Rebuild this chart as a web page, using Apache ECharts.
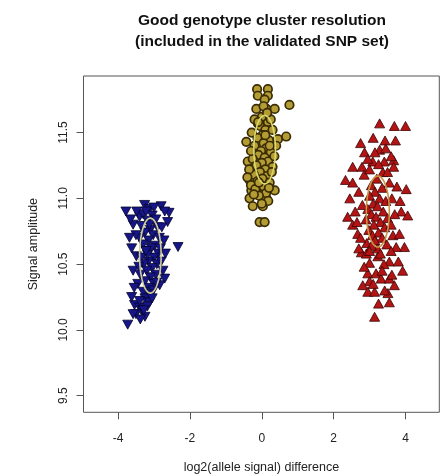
<!DOCTYPE html>
<html><head><meta charset="utf-8">
<script src="https://cdn.jsdelivr.net/npm/echarts@6/dist/echarts.min.js"></script>
<style>html,body{margin:0;padding:0;background:#fff}#c{width:442px;height:474px}</style>
</head><body><div id="c"></div>
<script>
// ---- data ----
const titleText = 'Good genotype cluster resolution\n(included in the validated SNP set)';
const xAxisTitle = 'log2(allele signal) difference';
const yAxisTitle = 'Signal amplitude';
const xTicks = [-4, -2, 0, 2, 4];
const yTicks = [9.5, 10.0, 10.5, 11.0, 11.5];

const blueX = [-3.78,-3.26,-2.80,-3.12,-2.58,-3.40,-3.58,-2.62,-2.33,-3.73,-3.54,-3.40,-3.25,-3.15,-2.70,-2.84,-3.58,-3.49,-2.75,
  -3.30,-3.05,-2.95,-3.18,-3.35,-2.90,-3.10,-3.25,-3.02,-2.85,-3.40,-3.15,-3.30,-2.98,-3.08,-3.22,-2.88,-3.35,-3.00,-3.15,-3.28,
  -2.92,-3.05,-3.20,-3.38,-2.95,-3.10,-3.25,-3.00,-3.45,-3.15,-3.02,-3.30,-3.10,-3.25,-3.40,-3.12,-3.32,-3.18,-3.50,-3.38,-3.62,
  -3.05,-3.50,-2.72,-2.68,-3.62,-2.80,-3.55,-3.48,-2.70,-3.00,-3.65,-2.82,-3.18,-3.42,-3.12,-2.92,-3.22,-3.28,-3.58,-2.78,-3.68,-3.22];
const blueY = [10.90,10.95,10.94,10.92,10.89,10.86,10.80,10.82,10.63,10.04,10.19,10.17,10.10,10.25,10.39,10.34,10.45,10.56,10.45,
  10.88,10.87,10.84,10.83,10.79,10.78,10.76,10.74,10.72,10.70,10.70,10.68,10.65,10.64,10.62,10.60,10.58,10.55,10.55,10.52,10.50,
  10.50,10.47,10.45,10.42,10.42,10.40,10.37,10.35,10.35,10.32,10.30,10.29,10.27,10.24,10.22,10.21,10.15,10.18,10.12,10.08,10.25,
  10.24,10.72,10.68,10.58,10.62,10.52,10.32,10.90,10.90,10.93,10.84,10.62,10.57,10.48,10.80,10.36,10.60,10.15,10.12,10.78,10.70,10.90];

const goldX = [-0.13,0.17,-0.11,0.17,0.08,-0.15,0.13,0.36,0.77,-0.11,0.17,0.45,0.68,-0.43,-0.39,-0.29,-0.34,-0.29,-0.15,0.36,0.13,
  -0.34,-0.25,0.03,-0.06,0.08,
  0.00,-0.05,0.10,0.02,-0.12,0.20,0.05,-0.20,0.12,-0.02,0.25,-0.10,0.08,-0.25,0.18,0.00,-0.15,0.30,0.10,-0.05,-0.22,0.15,0.02,
  -0.12,0.22,-0.30,0.05,-0.18,0.12,-0.08,0.28,0.35,-0.35,0.40,-0.28,0.25,0.30,-0.20,0.05,-0.08,0.18,-0.22,0.00,0.20,-0.40,0.10,
  -0.10,0.22,-0.30,0.15];
const goldY = [11.83,11.83,11.78,11.78,11.75,11.68,11.68,11.68,11.71,11.57,11.58,11.45,11.47,11.43,11.28,11.20,11.14,11.06,11.05,
  11.06,11.00,11.00,10.94,10.94,10.82,10.82,
  11.62,11.55,11.52,11.48,11.46,11.44,11.42,11.40,11.38,11.36,11.35,11.33,11.31,11.30,11.28,11.27,11.25,11.24,11.22,11.20,11.18,
  11.17,11.15,11.13,11.12,11.10,11.09,11.07,11.04,11.02,11.20,11.32,11.22,11.40,11.50,11.60,11.52,11.60,11.70,11.12,10.98,11.03,
  10.96,11.08,11.16,11.48,11.58,11.40,11.36,11.65];

const redX = [3.28,3.69,4.00,3.43,3.72,3.28,2.86,2.53,2.79,3.09,3.41,3.67,3.67,2.33,2.53,3.37,3.76,4.02,2.39,2.53,2.67,3.88,4.06,
  3.65,3.83,3.97,3.74,2.77,2.91,3.55,3.00,3.23,2.95,3.18,3.92,3.00,3.32,3.55,3.69,2.81,2.95,3.14,3.51,3.55,3.14,
  3.20,3.05,3.35,3.15,3.00,3.28,3.45,3.10,3.22,2.95,3.38,3.05,3.18,3.50,2.90,3.30,3.12,3.42,2.98,3.25,3.08,3.35,3.15,2.92,3.48,
  3.22,3.05,3.30,3.60,2.80,3.62,2.70,3.55,2.85,3.00,3.25,3.50,2.60,3.70,2.75,3.60,3.40,2.85,3.10,3.42,3.25,3.80,2.65,3.15,3.45,
  2.95,3.60,2.75,3.10,3.85,2.45,3.00,3.35,3.62,2.70];
const redY = [11.57,11.55,11.55,11.44,11.44,11.37,11.35,11.24,11.24,11.28,11.28,11.29,11.24,11.14,11.12,11.20,11.09,11.07,10.86,
  10.80,10.73,10.90,10.87,10.72,10.73,10.63,10.63,10.59,10.58,10.52,10.51,10.56,10.43,10.43,10.45,10.37,10.39,10.39,10.34,10.34,
  10.29,10.29,10.28,10.21,10.10,
  11.15,11.10,11.08,11.05,11.02,11.00,10.98,10.96,10.94,10.92,10.90,10.88,10.86,10.85,10.84,10.82,10.80,10.78,10.76,10.74,10.72,
  10.70,10.68,10.66,10.65,10.62,10.64,10.58,10.80,10.95,11.00,11.05,11.12,11.18,11.22,11.26,11.20,10.90,10.88,10.70,10.60,10.50,
  10.48,10.35,10.30,10.20,10.52,10.82,11.35,11.38,11.30,11.32,11.42,11.46,10.98,11.00,10.60,10.45,10.42,10.62];

// ellipse summaries (centre and semi-axes, data units)
const ellCx = [-3.10, 0.08, 3.23];
const ellCy = [10.565, 11.37, 10.90];
const ellRx = [0.30, 0.30, 0.32];
const ellRy = [0.285, 0.26, 0.27];
const ellColors = ['#cfcf96', '#dada6a', '#c99445'];

const zip = (a, b) => a.map((v, i) => [v, b[i]]);
const font = 'Liberation Sans, Arial, Helvetica, sans-serif';

const chart = echarts.init(document.getElementById('c'), null, {renderer: 'canvas'});
chart.setOption({
  animation: false,
  backgroundColor: '#fff',
  title: {
    text: titleText, left: 262, top: 10, textAlign: 'center', padding: 0,
    textStyle: {fontFamily: font, fontWeight: 'bold', fontSize: 15.5, lineHeight: 21, color: '#111'}
  },
  grid: {left: 83.5, right: 2.7, top: 76, bottom: 61.7, show: true, borderColor: '#555', borderWidth: 1,
    containLabel: false, outerBoundsMode: 'none'},
  xAxis: {
    type: 'value', min: -4.96, max: 4.94,
    name: xAxisTitle, nameLocation: 'middle', nameGap: 49,
    nameTextStyle: {fontFamily: font, fontSize: 12.5, color: '#222'},
    axisLine: {show: false, onZero: false}, splitLine: {show: false},
    axisTick: {show: true, length: 7, customValues: xTicks, lineStyle: {color: '#555'}},
    axisLabel: {customValues: xTicks, margin: 20, fontFamily: font, fontSize: 12, color: '#222', formatter: v => String(v)}
  },
  yAxis: {
    type: 'value', min: 9.374, max: 11.93,
    name: yAxisTitle, nameLocation: 'middle', nameGap: 43,
    nameTextStyle: {fontFamily: font, fontSize: 12.5, color: '#222'},
    axisLine: {show: false, onZero: false}, splitLine: {show: false},
    axisTick: {show: true, length: 7, customValues: yTicks, lineStyle: {color: '#555'}},
    axisLabel: {customValues: yTicks, rotate: 90, margin: 14, fontFamily: font, fontSize: 12, color: '#222', formatter: v => v.toFixed(1)}
  },
  series: [
    {type: 'scatter', data: zip(blueX, blueY), symbol: 'triangle', symbolRotate: 180, symbolSize: [10, 9],
      itemStyle: {color: '#16168a', borderColor: '#05052a', borderWidth: 0.8, opacity: 1}},
    {type: 'scatter', data: zip(goldX, goldY), symbol: 'circle', symbolSize: 8.5,
      itemStyle: {color: '#b49c34', borderColor: '#3a2c04', borderWidth: 1.7, opacity: 1}},
    {type: 'scatter', data: zip(redX, redY), symbol: 'triangle', symbolSize: [10, 9],
      itemStyle: {color: '#b51414', borderColor: '#3a0505', borderWidth: 0.8, opacity: 1}},
    {type: 'custom', coordinateSystem: 'cartesian2d', z: 10, silent: true,
      data: ellCx.map((c, i) => [c, ellCy[i], ellRx[i], ellRy[i], i]),
      renderItem: function (params, api) {
        const cx = api.value(0), cy = api.value(1), rx = api.value(2), ry = api.value(3), k = api.value(4);
        const pts = [];
        for (let i = 0; i <= 72; i++) {
          const t = i / 72 * 2 * Math.PI;
          pts.push(api.coord([cx + rx * Math.cos(t), cy + ry * Math.sin(t)]));
        }
        return {type: 'polyline', shape: {points: pts}, style: {fill: null, stroke: ellColors[k], lineWidth: 1.6}};
      }}
  ]
});
</script></body></html>
